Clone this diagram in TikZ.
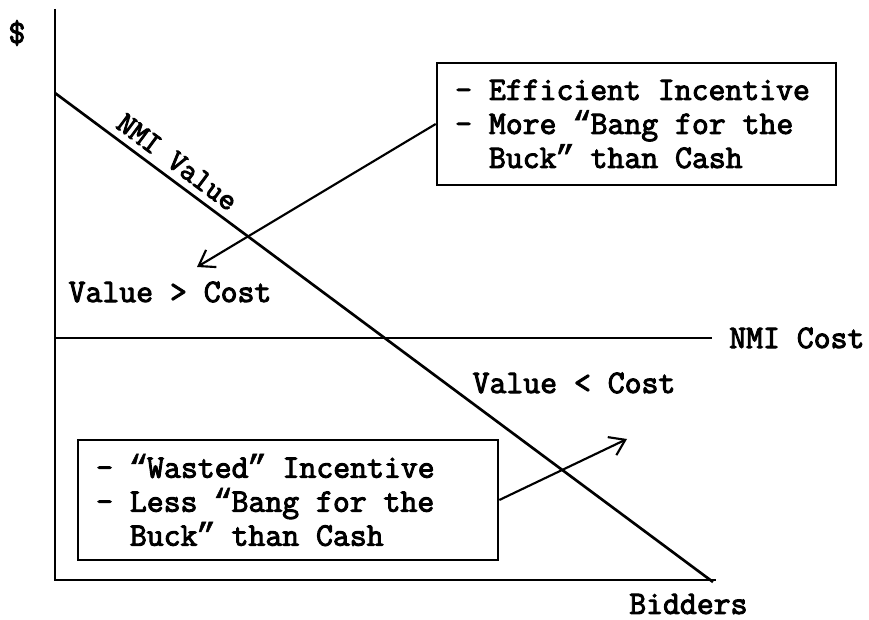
\documentclass[tikz,border=0pt]{standalone}
\usepackage{fontspec}
\newfontfamily\courfont{Latin Modern Mono}[FakeBold=3]
\newfontfamily\quofont{Liberation Mono}[FakeBold=1.5]
\newcommand\lquo{\makebox[0.525em]{\quofont “}}
\newcommand\rquo{\makebox[0.525em]{\quofont ”}}
\usepackage{tikz}
\usetikzlibrary{positioning,calc,arrows.meta}

\begin{document}
\begin{tikzpicture}[x=0.75pt, y=-0.75pt,
	txt/.style={font=\courfont\fontsize{24.6}{25.5}\selectfont, inner sep=0pt},
	axis/.style={line width=2.2pt},
	curve/.style={line width=2pt},
	note/.style={txt, draw, line width=2pt, align=flush left, inner xsep=13.6pt, inner ysep=0pt},
	pointer/.style={line width=1.6pt, -{Straight Barb[length=11pt, width=15pt, line width=1.6pt]}}
	]
	\useasboundingbox (0,0) rectangle (869,620);

	% axes
	\coordinate (origin) at (55,580);
	\draw[axis] (55,9) -- (origin) -- (716,580);
	\node[txt] (dollar) at (17,33) {\$};
	\node[txt, anchor=west] (bidders) at (629,604) {Bidders};

	% value and cost lines
	\coordinate (vstart) at (55,93);
	\coordinate (vend) at (713,582);
	\draw[curve] (vstart) -- (vend)
		node[pos=0.17, sloped, above=5pt, inner sep=0pt, font=\courfont\fontsize{23}{23}\selectfont] (vlabel) {NMI Value};
	\coordinate (cstart) at (55,338);
	\coordinate (cend) at (712,338);
	\draw[curve] (cstart) -- (cend);
	\node[txt, anchor=west] (costlabel) at (729,338) {NMI Cost};

	\node[txt] (above) at (170,292) {Value > Cost};
	\node[txt] (below) at (574,383) {Value < Cost};

	% the two notes
	\node[note, text width=272pt, minimum height=91.5pt] (good) at (636.5,124) {- Efficient Incentive\\- More \lquo Bang for the\\\phantom{-\ }Buck\rquo{} than Cash};
	\node[note, text width=287.8pt, minimum height=90pt] (bad) at (288,500) {- \lquo Wasted\rquo{} Incentive\\- Less \lquo Bang for the\\\phantom{-\ }Buck\rquo{} than Cash};

	\coordinate (goodtip) at (197,267);
	\coordinate (badtip) at (627,439);
	\draw[pointer] (good.west) -- (goodtip);
	\draw[pointer] (bad.east) -- (badtip);
\end{tikzpicture}
\end{document}
